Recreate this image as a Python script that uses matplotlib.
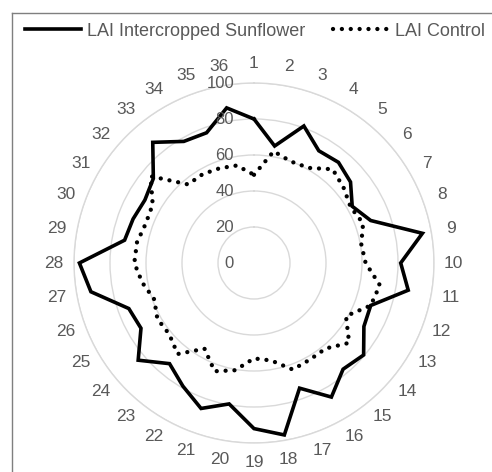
import numpy as np
import matplotlib
matplotlib.use("Agg")
import matplotlib.pyplot as plt
import matplotlib.transforms as mtransforms
from matplotlib.lines import Line2D

plt.rcParams['font.family'] = ['Liberation Sans', 'DejaVu Sans']

# data
categories = [str(i) for i in range(1, 37)]
lai_intercropped = [80, 66, 81, 72, 73, 70, 63, 69, 95, 81.5, 87, 69,
                    70.5, 79.5, 77, 86, 74, 97, 92, 79.5, 86, 79, 73, 84,
                    72.5, 74, 92, 97, 73, 71.5, 70, 73, 87.5, 78, 77, 87.5]
lai_control = [49, 63, 60, 61, 68, 65, 62, 64.5, 60.5, 62, 71, 69,
               59, 69, 62, 62, 63, 55, 53, 60.5, 64, 55, 66, 61.5,
               62, 59, 63, 66.5, 66, 64, 65, 75, 57, 57, 56, 55]
r_ticks = [0, 20, 40, 60, 80, 100]

grey = '#595959'
grid = '#d9d9d9'

fig = plt.figure(figsize=(4.92, 4.72), dpi=100)
ax = fig.add_axes([74 / 492, 29 / 472, 360 / 492, 360 / 472], projection='polar')
ax.set_theta_zero_location('N')
ax.set_theta_direction(-1)

theta = np.linspace(0, 2 * np.pi, len(categories), endpoint=False)
th = np.append(theta, theta[0])

ax.plot(th, lai_intercropped + lai_intercropped[:1], color='black', lw=2.6,
        solid_joinstyle='miter', label='LAI Intercropped Sunflower')
ax.plot(th, lai_control + lai_control[:1], color='black', lw=3.1,
        linestyle=(0, (0.01, 2.05)), dash_capstyle='round',
        label='LAI Control')

ax.set_ylim(0, 100)
ax.set_yticks(r_ticks[1:])
ax.set_yticklabels([])
ax.set_xticks(theta)
ax.set_xticklabels([])
ax.yaxis.grid(True, color=grid, lw=1)
ax.xaxis.grid(False)
ax.spines['polar'].set_color(grid)
ax.spines['polar'].set_linewidth(1)
ax.tick_params(length=0)

# radial value labels, right aligned just left of the vertical axis
off = mtransforms.offset_copy(ax.transData, fig=fig, x=-20, y=0, units='dots')
for v in r_ticks:
    ax.text(0, v, str(v), transform=off, ha='right', va='center',
            fontsize=12, color=grey)

# category labels around the circle
for t, lab in zip(theta, categories):
    ax.text(t, 111, lab, ha='center', va='center', fontsize=12.5,
            color=grey, clip_on=False)

fig.legend(loc='center', bbox_to_anchor=(255 / 492, 1 - 31 / 472), ncol=2,
           frameon=False, fontsize=13, labelcolor=grey, handlelength=3.05,
           handletextpad=0.35, columnspacing=1.55)

# chart border (only left and top visible in the crop)
fig.add_artist(Line2D([12 / 492, 12 / 492], [0, 1 - 13 / 472],
                      transform=fig.transFigure, color='#7f7f7f', lw=1))
fig.add_artist(Line2D([12 / 492, 1], [1 - 13 / 472, 1 - 13 / 472],
                      transform=fig.transFigure, color='#7f7f7f', lw=1))

fig.savefig('out.png', dpi=100)
